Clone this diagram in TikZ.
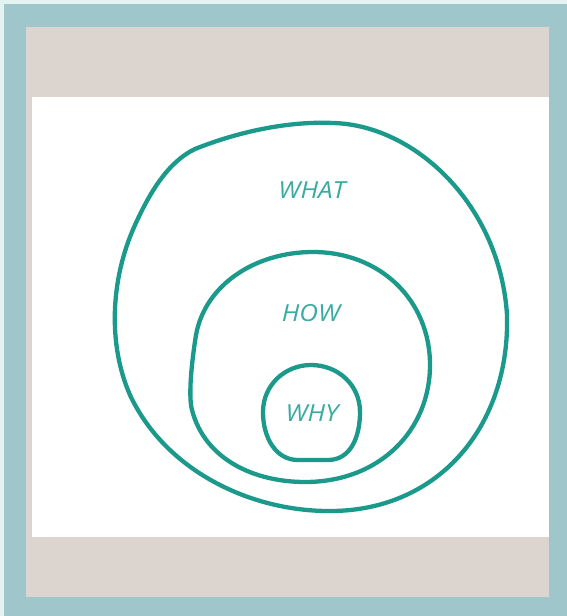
\documentclass[tikz,border=0pt]{standalone}
\usepackage{fontspec}
\setmainfont{Open Sans}
\definecolor{frameblue}{HTML}{9EC6CB}
\definecolor{frameedge}{HTML}{E4F2F2}
\definecolor{beige}{HTML}{DCD4CF}
\definecolor{ring}{HTML}{1B9A8C}
\definecolor{ringtext}{HTML}{3AAB9F}
\tikzset{
  ringline/.style={draw=ring, line width=4.3pt, line join=round},
  label/.style={text=ringtext, font=\itshape\fontsize{23.5}{24}\selectfont, xscale=1.1, inner sep=0pt}
}
\begin{document}
\begin{tikzpicture}[x=1pt,y=-1pt]
\useasboundingbox (0,0) rectangle (567,616);
\fill[frameedge] (0,0) rectangle (567,616);
\fill[frameblue] (4,4) rectangle (567,616);
\fill[beige] (26,27) rectangle (549,597);
\fill[white] (32,97) rectangle (549,537);
% outer ring
\draw[ringline] (195,149) .. controls (240,131) and (290,121) .. (333,123)
  .. controls (415,125) and (500,205) .. (507,315)
  .. controls (510,425) and (440,510) .. (332,511)
  .. controls (250,512) and (165,470) .. (130,395)
  .. controls (108,345) and (110,280) .. (135,225)
  .. controls (150,192) and (168,162) .. (195,149) -- cycle;
% middle ring
\draw[ringline] (313,252) .. controls (380,252) and (430,300) .. (430,365)
  .. controls (430,430) and (380,482) .. (305,482)
  .. controls (255,482) and (205,460) .. (192,410)
  .. controls (188,395) and (192,360) .. (196,335)
  .. controls (205,285) and (255,252) .. (313,252) -- cycle;
% inner ring
\draw[ringline] (311,365) .. controls (338,365) and (360,385) .. (360,412)
  .. controls (360,438) and (350,460) .. (328,460) -- (298,460)
  .. controls (276,460) and (263,438) .. (263,412)
  .. controls (263,385) and (285,365) .. (311,365) -- cycle;
\node[label] (what) at (312,190) {WHAT};
\node[label] (how) at (311,313) {HOW};
\node[label] (why) at (312,413) {WHY};
\end{tikzpicture}
\end{document}
